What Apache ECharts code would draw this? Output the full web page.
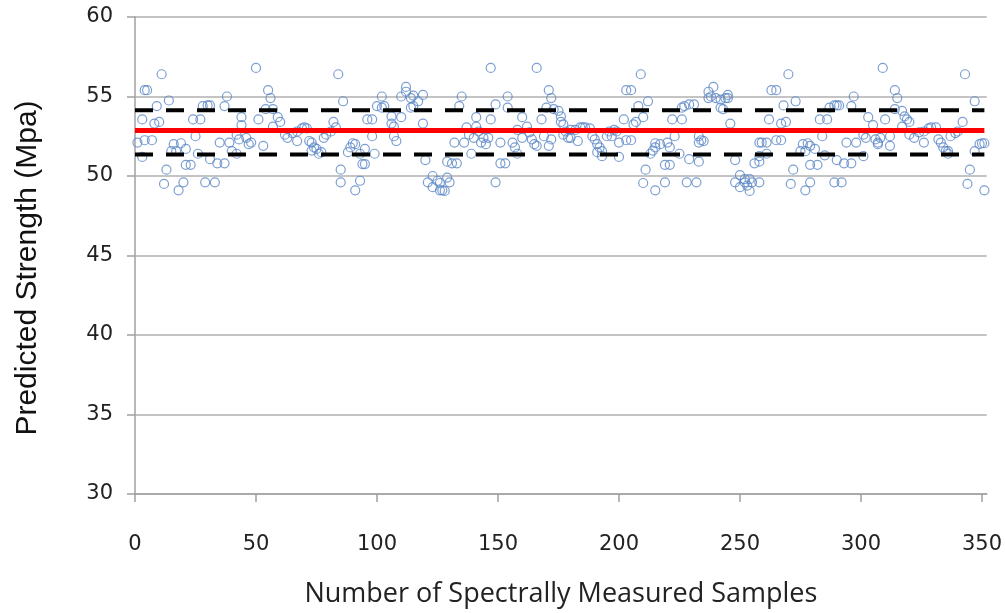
<!DOCTYPE html>
<html>
<head>
<meta charset="utf-8">
<title>Predicted Strength</title>
<script src="https://cdn.jsdelivr.net/npm/echarts@6/dist/echarts.min.js"></script>
<style>
  html, body { margin: 0; padding: 0; background: #fff; }
  #chart { width: 1005px; height: 613px; }
</style>
</head>
<body>
<div id="chart"></div>
<script>
// sample index and predicted strength
const sampleNo = [
  1, 3, 3, 4, 4, 5, 7, 8, 9, 10, 11, 12, 13, 14, 15, 16, 17, 18, 19, 20,
  21, 21, 23, 24, 25, 26, 27, 28, 29, 30, 31, 31, 33, 34, 35, 37, 37, 38, 39, 40,
  42, 42, 43, 44, 44, 46, 47, 48, 50, 51, 53, 54, 55, 56, 57, 57, 59, 60, 62, 63,
  65, 67, 67, 69, 70, 71, 72, 73, 73, 74, 75, 76, 77, 78, 79, 81, 82, 83, 84, 85,
  85, 86, 88, 89, 90, 91, 91, 93, 93, 94, 95, 95, 96, 98, 98, 99, 100, 102, 102, 103,
  106, 106, 107, 107, 108, 110, 110, 112, 112, 114, 114, 115, 115, 117, 119, 119, 120, 121, 123, 123,
  125, 126, 126, 127, 128, 129, 129, 130, 131, 132, 133, 134, 135, 136, 137, 138, 139, 140, 141, 141,
  142, 143, 144, 145, 146, 147, 147, 149, 149, 151, 151, 153, 154, 154, 156, 157, 158, 158, 160, 160,
  162, 163, 164, 165, 166, 166, 168, 169, 170, 171, 171, 172, 172, 173, 175, 176, 176, 177, 177, 178,
  179, 180, 180, 182, 183, 184, 185, 186, 188, 189, 190, 191, 191, 192, 193, 193, 195, 196, 197, 198,
  199, 200, 200, 202, 203, 203, 205, 205, 206, 207, 208, 209, 210, 210, 211, 212, 213, 214, 215, 215,
  215, 217, 219, 219, 220, 221, 221, 222, 223, 225, 226, 226, 227, 228, 229, 229, 231, 232, 233, 233,
  233, 234, 235, 237, 237, 238, 239, 240, 242, 242, 243, 244, 245, 245, 246, 248, 248, 250, 250, 252,
  252, 253, 254, 254, 255, 256, 258, 258, 258, 258, 259, 261, 261, 262, 263, 265, 265, 267, 267, 268,
  269, 270, 271, 272, 273, 275, 276, 277, 277, 278, 279, 279, 279, 281, 282, 283, 284, 285, 286, 287,
  289, 289, 290, 290, 291, 292, 293, 294, 296, 296, 297, 298, 301, 301, 302, 303, 305, 306, 307, 307,
  308, 309, 310, 312, 312, 314, 314, 315, 317, 317, 318, 319, 320, 320, 322, 324, 326, 326, 328, 329,
  331, 332, 333, 334, 335, 336, 336, 337, 339, 340, 342, 343, 344, 345, 347, 347, 349, 350, 351, 351
];
const strength = [
  52.1, 51.2, 53.56, 55.4, 52.25, 55.4, 52.25, 53.3, 54.4, 53.4, 56.4, 49.5, 50.4, 54.75, 51.56, 52.0, 51.56, 49.1, 52.06, 49.6,
  51.7, 50.7, 50.7, 53.56, 52.5, 51.4, 53.56, 54.4, 49.6, 54.44, 54.44, 51.06, 49.6, 50.8, 52.1, 54.4, 50.8, 55.0, 52.1, 51.56,
  52.6, 51.4, 52.3, 53.7, 53.2, 52.4, 52.0, 52.1, 56.8, 53.56, 51.9, 54.2, 55.4, 54.9, 54.2, 53.1, 53.7, 53.4, 52.6, 52.4,
  52.7, 52.8, 52.2, 53.0, 53.06, 53.0, 52.2, 52.1, 51.6, 51.8, 51.7, 51.4, 51.5, 52.4, 52.6, 52.8, 53.4, 53.06, 56.4, 50.4,
  49.6, 54.7, 51.5, 51.8, 52.06, 52.0, 49.1, 51.4, 49.7, 50.75, 51.7, 50.75, 53.56, 53.56, 52.5, 51.4, 54.4, 55.0, 54.3, 54.4,
  53.75, 53.3, 53.1, 52.5, 52.2, 55.0, 53.7, 55.3, 55.6, 54.9, 54.3, 54.4, 55.06, 54.7, 55.1, 53.3, 51.0, 49.6, 49.3, 50.0,
  49.7, 49.1, 49.56, 49.1, 49.06, 50.9, 49.9, 49.6, 50.8, 52.1, 50.8, 54.4, 55.0, 52.1, 53.06, 52.6, 51.4, 52.4, 53.7, 53.1,
  52.8, 52.1, 52.4, 52.0, 52.4, 56.8, 53.56, 54.5, 49.6, 52.1, 50.8, 50.8, 54.3, 55.0, 52.1, 51.8, 52.9, 51.4, 53.7, 52.4,
  53.1, 52.75, 52.3, 52.0, 56.8, 51.9, 53.56, 52.5, 54.3, 55.4, 51.9, 54.9, 52.3, 54.2, 54.1, 53.75, 53.4, 53.25, 52.6, 52.8,
  52.4, 52.9, 52.4, 52.9, 52.2, 53.06, 53.06, 53.06, 53.0, 52.5, 52.3, 52.0, 51.5, 51.8, 51.56, 51.25, 52.5, 52.8, 52.5, 52.9,
  52.8, 52.1, 51.2, 53.56, 55.4, 52.25, 55.4, 52.25, 53.25, 53.4, 54.4, 56.4, 53.7, 49.56, 50.4, 54.7, 51.4, 51.6, 51.8, 52.06,
  49.1, 52.0, 50.7, 49.6, 52.1, 51.8, 50.7, 53.56, 52.5, 51.4, 53.56, 54.3, 54.4, 49.6, 54.5, 51.06, 54.5, 49.6, 50.9, 52.1,
  52.5, 52.25, 52.2, 54.9, 55.3, 55.0, 55.6, 54.9, 54.8, 54.3, 54.2, 54.9, 55.1, 54.9, 53.3, 51.0, 49.6, 49.3, 50.06, 49.6,
  49.8, 49.4, 49.8, 49.06, 49.6, 50.8, 50.9, 52.1, 49.6, 51.25, 52.1, 51.4, 52.1, 53.56, 55.4, 52.25, 55.4, 52.25, 53.3, 54.44,
  53.4, 56.4, 49.5, 50.4, 54.7, 51.56, 52.0, 51.56, 49.1, 52.06, 51.9, 49.6, 50.7, 51.7, 50.7, 53.56, 52.5, 51.3, 53.56, 54.3,
  54.44, 49.6, 54.44, 51.0, 54.44, 49.6, 50.8, 52.1, 50.8, 54.4, 55.0, 52.1, 52.6, 51.25, 52.4, 53.7, 53.2, 52.3, 52.1, 52.0,
  52.4, 56.8, 53.56, 52.5, 51.9, 54.2, 55.4, 54.9, 54.1, 53.1, 53.75, 53.56, 53.4, 52.6, 52.4, 52.75, 52.8, 52.1, 53.0, 53.06,
  53.06, 52.3, 52.1, 51.8, 51.56, 51.4, 51.56, 52.5, 52.7, 52.8, 53.4, 56.4, 49.5, 50.4, 54.7, 51.56, 52.0, 52.06, 52.06, 49.1
];

// reference lines: mean and control limits
const meanValue = 52.86;
const upperLimit = 54.14;
const lowerLimit = 51.36;
const lineSpan = [0, 351];

const xTicks = [0, 50, 100, 150, 200, 250, 300, 350];

const points = sampleNo.map((x, i) => [x, strength[i]]);
const flatLine = (v) => lineSpan.map(x => [x, v]);

const chart = echarts.init(document.getElementById('chart'));

chart.setOption({
  animation: false,
  grid: { left: 135, right: 15, top: 17, bottom: 115 },
  xAxis: {
    type: 'value',
    min: 0,
    max: 352,
    name: 'Number of Spectrally Measured Samples',
    nameLocation: 'middle',
    nameGap: 87,
    nameTextStyle: { fontFamily: 'Open Sans', fontSize: 27, color: '#222' },
    axisLine: { show: true, lineStyle: { color: '#a0a0a0', width: 1.5 } },
    axisTick: { show: true, length: 8, customValues: xTicks, lineStyle: { color: '#a0a0a0', width: 1.5 } },
    axisLabel: { customValues: xTicks, margin: 40, fontFamily: 'DejaVu Sans', fontSize: 21, color: '#222' },
    splitLine: { show: false }
  },
  yAxis: {
    type: 'value',
    min: 30,
    max: 60,
    interval: 5,
    name: 'Predicted Strength (Mpa)',
    nameLocation: 'middle',
    nameGap: 92,
    nameTextStyle: { fontFamily: 'Liberation Sans', fontSize: 30, color: '#111', padding: [0, 25, 0, 0] },
    axisLine: { show: true, lineStyle: { color: '#a0a0a0', width: 1.5 } },
    axisTick: { show: true, length: 8, lineStyle: { color: '#a0a0a0', width: 1.5 } },
    axisLabel: { margin: 22, fontFamily: 'DejaVu Sans', fontSize: 21, color: '#222' },
    splitLine: { show: true, lineStyle: { color: '#b0b0b0', width: 1.5 } }
  },
  series: [
    {
      type: 'scatter',
      data: points,
      symbol: 'circle',
      symbolSize: 9,
      itemStyle: { color: 'rgba(0,0,0,0)', borderColor: '#5b87c5', borderWidth: 1.2 },
      z: 2
    },
    {
      type: 'line',
      data: flatLine(meanValue),
      symbol: 'none',
      lineStyle: { color: '#ff0000', width: 5 },
      z: 3
    },
    {
      type: 'line',
      data: flatLine(upperLimit),
      symbol: 'none',
      lineStyle: { color: '#000', width: 4, type: [18, 13] },
      z: 3
    },
    {
      type: 'line',
      data: flatLine(lowerLimit),
      symbol: 'none',
      lineStyle: { color: '#000', width: 4, type: [18, 13] },
      z: 3
    }
  ]
});
</script>
</body>
</html>
